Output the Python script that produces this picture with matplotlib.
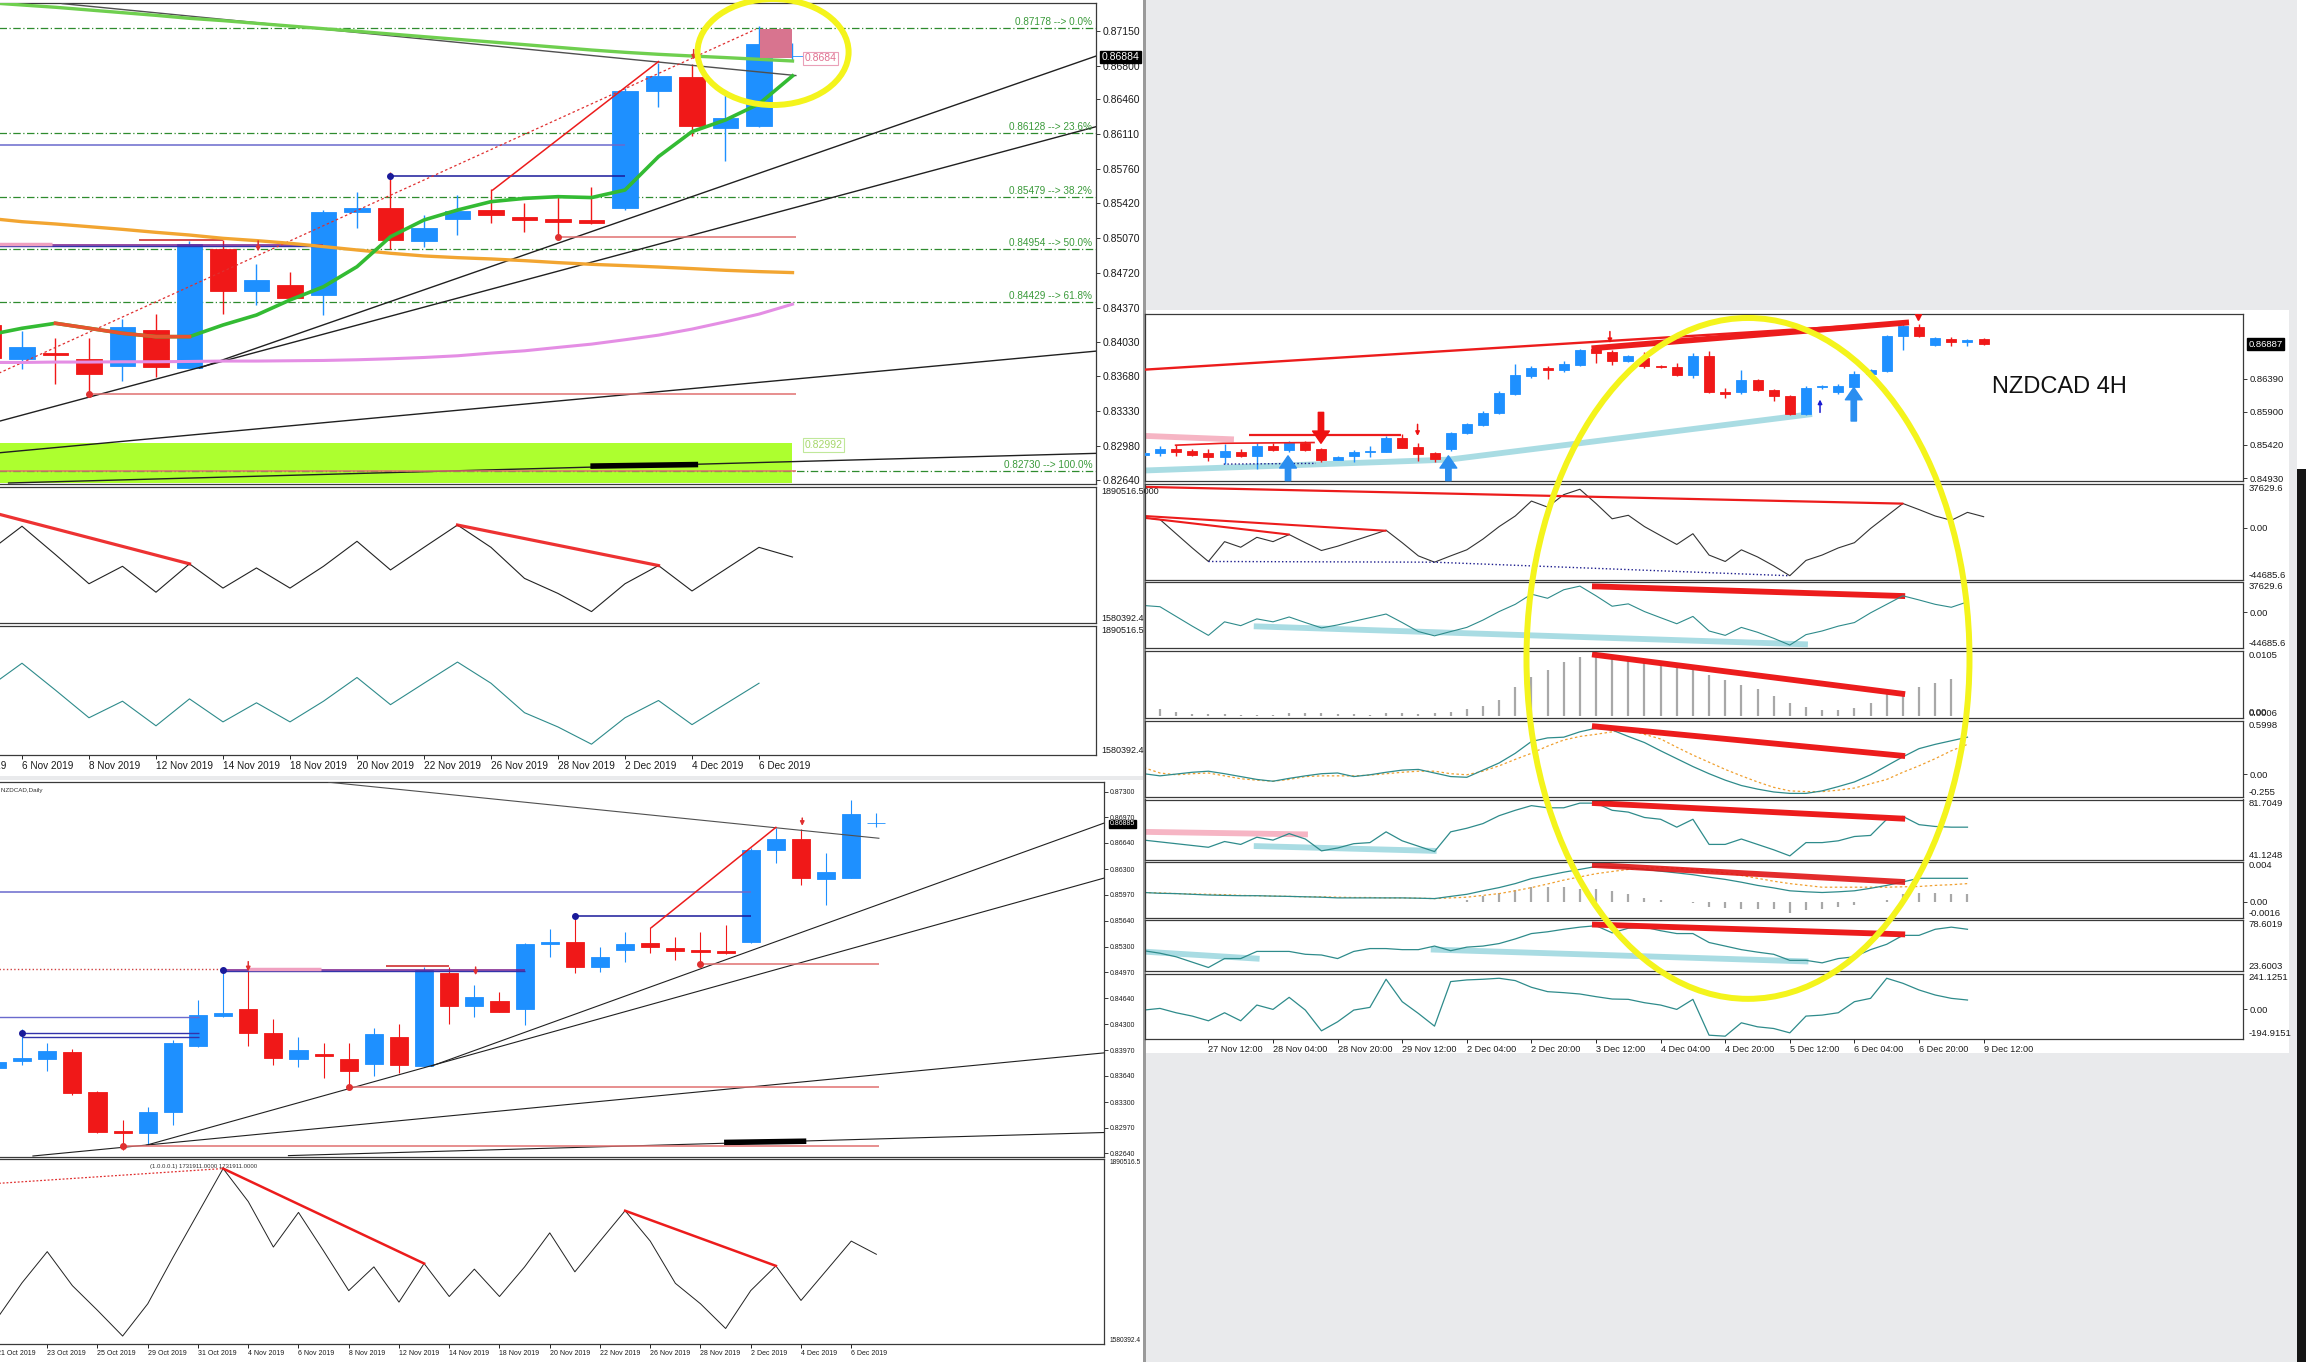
import matplotlib
matplotlib.use("Agg")
import matplotlib.pyplot as plt
from matplotlib.patches import Rectangle, Ellipse
import numpy as np

plt.rcParams['font.family'] = ['Liberation Sans', 'DejaVu Sans']

# ---------------- NZDCAD daily, 21 Oct 2019 .. 9 Dec 2019 ----------------
day_names = ['21 Oct', '22 Oct', '23 Oct', '24 Oct', '25 Oct', '28 Oct', '29 Oct', '30 Oct',
             '31 Oct', '1 Nov', '4 Nov', '5 Nov', '6 Nov', '7 Nov', '8 Nov', '11 Nov',
             '12 Nov', '13 Nov', '14 Nov', '15 Nov', '18 Nov', '19 Nov', '20 Nov', '21 Nov',
             '22 Nov', '25 Nov', '26 Nov', '27 Nov', '28 Nov', '29 Nov', '2 Dec', '3 Dec',
             '4 Dec', '5 Dec', '6 Dec', '9 Dec']
d_open = [0.83735, 0.83829, 0.83859, 0.83945, 0.83434, 0.82931, 0.82897, 0.83176, 0.84022,
          0.84413, 0.84495, 0.84194, 0.83851, 0.83915, 0.83855, 0.83786, 0.84143, 0.83765,
          0.84959, 0.84538, 0.84598, 0.84495, 0.85333, 0.85367, 0.85036, 0.85260, 0.85346,
          0.85281, 0.85256, 0.85251, 0.85367, 0.86548, 0.86686, 0.86170, 0.86192, 0.86892]
d_high = [0.83842, 0.84237, 0.84065, 0.83979, 0.83443, 0.83069, 0.83241, 0.84100, 0.84615,
          0.85023, 0.85045, 0.84366, 0.84134, 0.84065, 0.84065, 0.84259, 0.84306, 0.85036,
          0.85045, 0.84809, 0.84723, 0.85346, 0.85526, 0.85732, 0.85303, 0.85496, 0.85560,
          0.85423, 0.85496, 0.85582, 0.86570, 0.86827, 0.86815, 0.86514, 0.87193, 0.87029]
d_low = [0.83713, 0.83778, 0.83705, 0.83391, 0.82906, 0.82682, 0.82747, 0.83004, 0.84014,
         0.84400, 0.84022, 0.83778, 0.83756, 0.83606, 0.83477, 0.83636, 0.83670, 0.83765,
         0.84306, 0.84392, 0.84456, 0.84293, 0.85165, 0.84959, 0.84980, 0.85101, 0.85217,
         0.85131, 0.85088, 0.85208, 0.85346, 0.86385, 0.86097, 0.85840, 0.86183, 0.86849]
d_close = [0.83821, 0.83872, 0.83962, 0.83412, 0.82918, 0.82906, 0.83176, 0.84057, 0.84422,
           0.84443, 0.84186, 0.83863, 0.83971, 0.83894, 0.83700, 0.84177, 0.83773, 0.85007,
           0.84538, 0.84650, 0.84465, 0.85333, 0.85367, 0.85045, 0.85174, 0.85337, 0.85303,
           0.85251, 0.85234, 0.85217, 0.86548, 0.86694, 0.86192, 0.86269, 0.87012, 0.86900]
d_osc = [1623000, 1683200, 1735200, 1678200, 1636800, 1593700, 1647800, 1725200, 1799800,
         1874500, 1819200, 1742900, 1801000, 1736300, 1669900, 1709700, 1650600, 1715300,
         1660000, 1705900, 1660000, 1709700, 1766700, 1701400, 1752900, 1803800, 1752900,
         1682100, 1647800, 1606400, 1669900, 1711400, 1653400, 1703100, 1752900, 1730800]

# moving averages on the zoomed daily chart, 5 Nov .. 9 Dec
ma_top = [0.87431, 0.87408, 0.87385, 0.87358, 0.87331, 0.87304, 0.87274, 0.87251, 0.87224,
          0.87197, 0.87170, 0.87144, 0.87117, 0.87090, 0.87063, 0.87037, 0.87010, 0.86983,
          0.86956, 0.86933, 0.86913, 0.86896, 0.86880, 0.86863, 0.86846]
ma_fast = [0.84096, 0.84163, 0.84213, 0.84163, 0.84113, 0.84079, 0.84079, 0.84196, 0.84296,
           0.84447, 0.84580, 0.84781, 0.85082, 0.85250, 0.85350, 0.85434, 0.85467, 0.85484,
           0.85475, 0.85551, 0.85886, 0.86137, 0.86254, 0.86415, 0.86696]
ma_mid = [0.85267, 0.85233, 0.85210, 0.85183, 0.85156, 0.85126, 0.85099, 0.85066, 0.85043,
          0.85016, 0.84983, 0.84949, 0.84916, 0.84889, 0.84872, 0.84859, 0.84842, 0.84822,
          0.84805, 0.84792, 0.84778, 0.84762, 0.84745, 0.84732, 0.84722]
ma_slow = [0.83820, 0.83820, 0.83824, 0.83824, 0.83827, 0.83827, 0.83830, 0.83834, 0.83834,
           0.83837, 0.83840, 0.83847, 0.83857, 0.83870, 0.83887, 0.83914, 0.83937, 0.83971,
           0.84004, 0.84048, 0.84094, 0.84155, 0.84228, 0.84305, 0.84405]

fib_levels = [0.87178, 0.86128, 0.85479, 0.84954, 0.84429, 0.82730]
fib_names = ['0.0%', '23.6%', '38.2%', '50.0%', '61.8%', '100.0%']

# ---------------- NZDCAD 4H, 26 Nov 20:00 .. 9 Dec 04:00 ----------------
h4_labels = ['27 Nov 12:00', '28 Nov 04:00', '28 Nov 20:00', '29 Nov 12:00', '2 Dec 04:00',
             '2 Dec 20:00', '3 Dec 12:00', '4 Dec 04:00', '4 Dec 20:00', '5 Dec 12:00',
             '6 Dec 04:00', '6 Dec 20:00', '9 Dec 12:00']
h_open = [0.85266, 0.85295, 0.85353, 0.85329, 0.85295, 0.85232, 0.85314, 0.85246, 0.85402,
          0.85344, 0.85451, 0.85363, 0.85198, 0.85246, 0.85305, 0.85319, 0.85524, 0.85387,
          0.85295, 0.85353, 0.85587, 0.85709, 0.85879, 0.86166, 0.86434, 0.86546, 0.86521,
          0.86594, 0.86823, 0.86774, 0.86643, 0.86692, 0.86580, 0.86560, 0.86448, 0.86726,
          0.86190, 0.86190, 0.86375, 0.86229, 0.86132, 0.85864, 0.86268, 0.86190, 0.86268,
          0.86463, 0.86497, 0.87018, 0.87154, 0.86886, 0.86974, 0.86935, 0.86969]
h_high = [0.85305, 0.85402, 0.85412, 0.85363, 0.85363, 0.85426, 0.85353, 0.85451, 0.85441,
          0.85475, 0.85475, 0.85378, 0.85256, 0.85344, 0.85402, 0.85548, 0.85572, 0.85441,
          0.85314, 0.85606, 0.85743, 0.85908, 0.86205, 0.86609, 0.86570, 0.86570, 0.86643,
          0.86823, 0.86862, 0.86813, 0.86740, 0.86774, 0.86594, 0.86619, 0.86765, 0.86789,
          0.86254, 0.86521, 0.86385, 0.86239, 0.86142, 0.86278, 0.86302, 0.86317, 0.86497,
          0.86531, 0.87032, 0.87193, 0.87193, 0.87008, 0.86998, 0.86969, 0.86984]
h_low = [0.85256, 0.85256, 0.85256, 0.85256, 0.85183, 0.85134, 0.85232, 0.85061, 0.85329,
         0.85314, 0.85329, 0.85168, 0.85188, 0.85159, 0.85232, 0.85314, 0.85368, 0.85183,
         0.85159, 0.85329, 0.85572, 0.85694, 0.85864, 0.86156, 0.86400, 0.86390, 0.86487,
         0.86580, 0.86619, 0.86594, 0.86628, 0.86546, 0.86546, 0.86424, 0.86400, 0.86181,
         0.86108, 0.86171, 0.86205, 0.86059, 0.85850, 0.85850, 0.86239, 0.86171, 0.86254,
         0.86448, 0.86482, 0.86813, 0.86998, 0.86862, 0.86862, 0.86862, 0.86877]
h_close = [0.85295, 0.85353, 0.85319, 0.85271, 0.85232, 0.85329, 0.85246, 0.85402, 0.85344,
           0.85460, 0.85344, 0.85198, 0.85241, 0.85319, 0.85329, 0.85524, 0.85378, 0.85280,
           0.85207, 0.85597, 0.85728, 0.85884, 0.86181, 0.86448, 0.86546, 0.86521, 0.86604,
           0.86813, 0.86765, 0.86643, 0.86716, 0.86570, 0.86560, 0.86448, 0.86726, 0.86190,
           0.86171, 0.86375, 0.86220, 0.86132, 0.85864, 0.86254, 0.86288, 0.86288, 0.86463,
           0.86521, 0.87018, 0.87164, 0.87018, 0.86984, 0.86935, 0.86959, 0.86896]
h_osc = [8700, 7200, -5000, -17200, -28800, -11800, -16600, -8100, -11800, -5700, -12700,
         -19400, -15700, -11100, -6600, -2000, -12700, -24000, -29400, -24000, -18800, -9600,
         1100, 10200, 23000, 17800, 28500, 33100, 20900, 7800, 10800, 1100, -6600, -14200,
         -5000, -23300, -28800, -18800, -24900, -32500, -41000, -27900, -23300, -17200,
         -12700, -500, 10200, 20900, 15700, 10200, 6500, 13300, 9600]
h_osc_hist = [0.00113, 0.00058, 0.00034, 0.00029, 0.00022, 0.00018, 0.00008, 0.00011, 0.0004,
              0.0004, 0.0004, 0.00034, 0.00022, 0.00018, 0.0004, 0.0004, 0.00034, 0.00045,
              0.00058, 0.00102, 0.00153, 0.00257, 0.00457, 0.00628, 0.00742, 0.00857, 0.00941,
              0.00981, 0.0097, 0.00941, 0.00897, 0.00857, 0.00799, 0.00742, 0.00657, 0.00571,
              0.00502, 0.00428, 0.00313, 0.002, 0.00142, 0.00085, 0.00085, 0.00125, 0.002,
              0.00342, 0.00371, 0.00468, 0.00531, 0.00588]
h_macd = [0.0070, -0.0172, 0.0030, 0.0231, 0.0352, 0.0070, -0.0252, -0.0574, -0.0776, -0.0454,
          -0.0172, 0.0070, 0.0150, -0.0252, -0.0051, 0.0231, 0.0473, 0.0553, 0.0150, -0.0252,
          -0.0333, 0.0473, 0.1278, 0.2366, 0.3695, 0.4097, 0.4178, 0.4782, 0.5185, 0.4983,
          0.4259, 0.3574, 0.2648, 0.1761, 0.0875, 0.0070, -0.0655, -0.1259, -0.1662, -0.1984,
          -0.2145, -0.2145, -0.1863, -0.1380, -0.0856, -0.0051, 0.0956, 0.1963, 0.2889, 0.3372,
          0.3775, 0.4178]
h_macd_sig = [0.0755, 0.0150, -0.0051, 0.0070, 0.0150, -0.0172, -0.0494, -0.0655, -0.0776,
              -0.0574, -0.0252, -0.0172, -0.0172, -0.0172, -0.0091, 0.0070, 0.0231, 0.0352,
              0.0352, 0.0070, -0.0051, 0.0352, 0.0956, 0.1681, 0.2366, 0.3171, 0.3856, 0.4259,
              0.4500, 0.4782, 0.4983, 0.4500, 0.3977, 0.3050, 0.2164, 0.1359, 0.0553, -0.0172,
              -0.0856, -0.1461, -0.1863, -0.1944, -0.1944, -0.1783, -0.1541, -0.1058, -0.0574,
              0.0231, 0.0956, 0.1761, 0.2648, 0.3372]
h_rsi = [54.25, 53.03, 51.82, 50.61, 49.39, 53.28, 51.33, 56.19, 54.25, 58.62, 54.98, 46.96,
         48.91, 51.82, 52.55, 59.83, 53.76, 50.12, 46.48, 59.83, 62.26, 65.42, 70.76, 74.40,
         77.55, 76.10, 76.10, 79.25, 79.25, 74.40, 73.18, 69.54, 68.33, 62.99, 68.33, 51.33,
         51.33, 54.98, 51.33, 47.69, 43.57, 52.55, 52.55, 53.76, 56.68, 57.40, 68.33, 70.27,
         64.69, 63.47, 62.99, 62.99]
h_macd2 = [0.00090, 0.00082, 0.00079, 0.00072, 0.00065, 0.00061, 0.00058, 0.00058, 0.00054,
           0.00051, 0.00047, 0.00043, 0.00036, 0.00036, 0.00036, 0.00036, 0.00036, 0.00033,
           0.00029, 0.00051, 0.00072, 0.00107, 0.00139, 0.00179, 0.00229, 0.00261, 0.00293,
           0.00321, 0.00350, 0.00346, 0.00339, 0.00321, 0.00303, 0.00286, 0.00268, 0.00243,
           0.00221, 0.00193, 0.00161, 0.00136, 0.00107, 0.00097, 0.00090, 0.00097, 0.00107,
           0.00132, 0.00161, 0.00196, 0.00232, 0.00232, 0.00232, 0.00232]
h_macd2_sig = [0.00090, 0.00086, 0.00079, 0.00075, 0.00072, 0.00068, 0.00061, 0.00058, 0.00054,
               0.00051, 0.00047, 0.00047, 0.00043, 0.00040, 0.00040, 0.00036, 0.00036, 0.00033,
               0.00029, 0.00036, 0.00043, 0.00061, 0.00079, 0.00107, 0.00139, 0.00175, 0.00214,
               0.00246, 0.00278, 0.00300, 0.00321, 0.00332, 0.00339, 0.00332, 0.00321, 0.00303,
               0.00286, 0.00261, 0.00232, 0.00203, 0.00179, 0.00161, 0.00143, 0.00143, 0.00143,
               0.00143, 0.00143, 0.00147, 0.00150, 0.00161, 0.00168, 0.00179]
h_macd2_hist = [-0.00005, -0.00007, -0.00006, -0.00008, -0.00006, -0.00005, -0.00007, -0.00006,
                -0.00008, -0.00007, -0.00006, -0.00005, -0.00007, -0.00006, -0.00006, -0.00007,
                -0.00005, -0.00004, -0.00003, 0.00018, 0.00054, 0.00090, 0.00114, 0.00143,
                0.00143, 0.00150, 0.00125, 0.00125, 0.00107, 0.00072, 0.00036, 0.00011, -0.00007,
                -0.00017, -0.00053, -0.00064, -0.00071, -0.00071, -0.00078, -0.00114, -0.00089,
                -0.00071, -0.00053, -0.00036, 0.0, 0.00018, 0.00072, 0.00090, 0.00090, 0.00079,
                0.00072]
h_stoch = [45.48, 42.78, 38.93, 33.15, 27.38, 37.01, 37.01, 44.71, 44.71, 44.71, 41.63, 40.86,
           37.01, 44.71, 47.79, 47.79, 46.63, 46.63, 50.49, 45.48, 49.33, 50.49, 53.18, 58.19,
           63.97, 65.89, 68.59, 70.90, 72.44, 64.74, 69.74, 70.90, 67.05, 63.97, 63.97, 54.34,
           50.49, 46.63, 43.94, 41.63, 35.08, 35.08, 32.38, 37.01, 38.93, 46.63, 52.41, 62.04,
           62.04, 68.59, 70.90, 68.59]
h_cci = [-4.2, 7.0, -22.2, -44.6, -76.1, -22.2, -76.1, 29.5, 0.3, 81.2, -4.2, -143.5, -82.8,
         -4.2, 13.8, 202.5, 52.0, -26.7, -112.0, 186.8, 198.0, 202.5, 209.2, 193.5, 148.6, 119.4,
         112.6, 103.6, 85.7, 69.9, 67.7, 45.2, 29.5, 0.3, 67.7, -172.7, -179.4, -89.6, -116.5,
         -127.8, -157.0, -44.6, -37.9, -22.2, 52.0, 74.4, 209.2, 175.5, 130.6, 96.9, 74.4, 63.2]

# ---------------- figure ----------------
BULL, BEAR = '#1e90ff', '#f01818'
TEAL, ORANGE = '#2e8b8b', '#f0a030'
LBLUE, PINK, RED = '#a9dce3', '#f6b5c4', '#ec1c1c'
TXT = '#1a1a1a'

W, H = 2306, 1362
fig = plt.figure(figsize=(W / 100, H / 100), dpi=100, facecolor='#e9eaec')


def px(x0, y0, x1, y1):
    return [x0 / W, 1 - y1 / H, (x1 - x0) / W, (y1 - y0) / H]


def panel(x0, y0, x1, y1, color='white'):
    fig.add_artist(Rectangle((x0 / W, 1 - y1 / H), (x1 - x0) / W, (y1 - y0) / H,
                             transform=fig.transFigure, fc=color, ec='none', zorder=-5))


def pane(rect, xlim, ylim, ticks=None, fs=6.8):
    ax = fig.add_axes(px(*rect))
    ax.patch.set_visible(False)
    ax.set_xlim(xlim)
    ax.set_ylim(ylim)
    for s in ax.spines.values():
        s.set_color('#3a3a3a')
        s.set_linewidth(0.9)
    ax.set_xticks([])
    ax.yaxis.tick_right()
    ax.tick_params(axis='y', length=3, width=0.6, pad=1.5, labelsize=fs, colors=TXT)
    if ticks is None:
        ax.set_yticks([])
    else:
        ax.set_yticks(ticks)
        ax.set_yticklabels(['%.5f' % t for t in ticks])
    return ax


def scale(ax, top, bottom, zero=False, fs=6.8):
    for txt, y, va in ((top, 1, 'top'), (bottom, 0, 'bottom')):
        ax.annotate(txt, xy=(1, y), xycoords='axes fraction', xytext=(4, 0),
                    textcoords='offset points', ha='left', va=va, fontsize=fs, color=TXT,
                    annotation_clip=False)
    if zero:
        ax.set_yticks([0])
        ax.set_yticklabels(['0.00'])


def dates(ax, pos, labels, fs=7):
    ax.set_xticks(pos)
    ax.set_xticklabels(labels, ha='left', fontsize=fs, color=TXT)
    ax.tick_params(axis='x', length=3, width=0.6, pad=1.5)


def price_box(ax, y, text, fs=7):
    ax.annotate(text, xy=(1, y), xycoords=('axes fraction', 'data'), xytext=(4, 0),
                textcoords='offset points', ha='left', va='center', fontsize=fs, color='white',
                bbox=dict(boxstyle='square,pad=0.12', fc='black', ec='black'),
                annotation_clip=False, zorder=10)


def candles(ax, x, o, h, l, c, width, wick=1.0):
    o, h, l, c = map(np.asarray, (o, h, l, c))
    cols = np.where(c >= o, BULL, BEAR)
    ax.vlines(x, l, h, colors=cols, lw=wick, zorder=3)
    ax.bar(x, c - o, bottom=o, width=width, color=cols, ec=cols, lw=0.6, zorder=4)


def arrow(ax, x, tail, tip, color, big=False):
    if big:
        style = 'simple,head_width=1.1,head_length=0.8,tail_width=0.35'
        props = dict(arrowstyle=style, color=color, mutation_scale=11, shrinkA=0, shrinkB=0)
    else:
        props = dict(arrowstyle='-|>', color=color, lw=1.1, mutation_scale=6, shrinkA=0,
                     shrinkB=0)
    ax.annotate('', xy=(x, tip), xytext=(x, tail), arrowprops=props, zorder=7,
                annotation_clip=False)


# background panels
panel(0, 0, 1143, 776)
panel(0, 780, 1143, 1362)
panel(1146, 310, 2289, 1053)
panel(1143, 0, 1146, 1362, '#9a9a9a')
panel(2297, 0, 2306, 469)
panel(2297, 469, 2306, 1362, '#151515')

jd = np.arange(len(d_open))
jma = np.arange(11, 36)

# shared drawings of the daily charts
d_rising = [(5.94, 0.82744, 44.1, 0.86190), (17.3, 0.83765, 44.1, 0.86900),
            (1.43, 0.82605, 44.1, 0.83935), (11.6, 0.82610, 44.1, 0.82908)]


def daily_marks(ax, lw):
    for x0, y0, x1, y1 in d_rising:
        ax.plot([x0, x1], [y0, y1], color='#202020', lw=lw, zorder=5)
    ax.plot([29.05, 32.1], [0.82780, 0.82795], color='black', lw=4, zorder=5)
    ax.plot([13.2, 35.1], [0.87422, 0.86700], color='#505050', lw=lw, zorder=5)
    ax.plot([26.05, 31.0], [0.8555, 0.8684], color=RED, lw=1.1, zorder=6)
    ax.hlines(0.86005, -1, 30.0, color='#6a6acd', lw=1.1, zorder=5)
    ax.hlines(0.85694, 23.0, 30.0, color='#1a1a9a', lw=1.1, zorder=5)
    ax.hlines(0.85000, 9.0, 21.0, color='#7a1a8a', lw=1.1, zorder=5)
    ax.hlines(0.84985, 9.0, 21.0, color='#3333aa', lw=1.0, zorder=5)
    ax.hlines(0.85011, -1, 9.0, color='#d04040', lw=1.0, ls=':', zorder=5)
    ax.hlines(0.85011, 10.0, 12.9, color='#f0a0c0', lw=2.5, zorder=5)
    ax.hlines(0.85054, 15.5, 18.0, color='#d03030', lw=1.2, zorder=5)
    ax.hlines([0.85078, 0.83500, 0.82728], [28.0, 14.0, 5.0], 35.1, color='#e07070', lw=1.1,
              zorder=5)
    ax.plot([9.0, 23.0], [0.85000, 0.85694], 'o', color='#1a1a9a', ms=4, zorder=6)
    ax.plot([28.0, 14.0, 5.0], [0.85078, 0.83500, 0.82728], 'o', color='#e03030', ms=4, zorder=6)
    arrow(ax, 32.05, 0.86960, 0.86860, '#e03030')
    arrow(ax, 19.05, 0.85040, 0.84935, '#e03030')
    arrow(ax, 10.0, 0.85110, 0.84985, '#e03030')


# ---------------- top-left: zoomed daily ----------------
tl_x = (9.851, 44.06)
ax = pane((-50, 3, 1096, 484), tl_x, (0.82600, 0.87428),
          [0.87150, 0.86800, 0.86460, 0.86110, 0.85760, 0.85420, 0.85070, 0.84720, 0.84370,
           0.84030, 0.83680, 0.83330, 0.82980, 0.82640], fs=7.5)
ax.add_patch(Rectangle((9.85, 0.82607), 35.0 - 9.85, 0.83008 - 0.82607, fc='#adff2f', ec='none',
                       zorder=1))
for lev, name in zip(fib_levels, fib_names):
    ax.axhline(lev, color='#2e8b2e', lw=0.9, ls=(0, (6, 2, 1, 2)), zorder=2)
    ax.text(43.95, lev + 0.0001, '%.5f --> %s' % (lev, name), ha='right', va='bottom',
            fontsize=7.2, color='#3a9a3a', zorder=6)
candles(ax, jd, d_open, d_high, d_low, d_close, 0.75)
daily_marks(ax, 1.0)
ax.plot([11.3, 33.9], [0.83711, 0.87164], color='#e03030', lw=0.9, ls=(0, (2, 2)), zorder=5)
ax.plot(jma, ma_top, color='#6fcf4f', lw=2.4, zorder=5)
ax.plot(jma, ma_mid, color='#f2a531', lw=2.4, zorder=5)
ax.plot(jma, ma_slow, color='#e48ee4', lw=2.2, zorder=5)
ax.plot(jma, ma_fast, color='#33bb33', lw=2.6, zorder=6)
ax.plot(jma[2:7], ma_fast[2:7], color='#e8532e', lw=2.6, zorder=6)
ax.add_patch(Rectangle((34.02, 0.86873), 0.98, 0.00291, fc='#d8748f', ec='none', zorder=6))
ax.text(35.35, 0.86873, '0.8684', fontsize=7.5, color='#e07090', va='center', zorder=7,
        bbox=dict(boxstyle='square,pad=0.15', fc='white', ec='#eaa0b8', lw=0.8))
ax.text(35.35, 0.82992, '0.82992', fontsize=7.5, color='#a6d66a', va='center', zorder=7,
        bbox=dict(boxstyle='square,pad=0.15', fc='white', ec='#c0e89a', lw=0.8))
price_box(ax, 0.86884, '0.86884', fs=7.5)
fig.add_artist(Ellipse((34.42, 0.86936), 4.51, 0.01064, transform=ax.transData, fill=False,
                       ec='#f4f41c', lw=4.3, zorder=20))

ax = pane((-50, 487, 1096, 623), tl_x, (1580392.4, 1890516.5))
ax.plot(jd, d_osc, color='#222222', lw=0.8)
ax.plot([9, 17], [d_osc[9], d_osc[17]], color=RED, lw=2.3, alpha=0.9)
ax.plot([25, 31], [d_osc[25], d_osc[31]], color=RED, lw=2.3, alpha=0.9)
scale(ax, '1890516.5000', '1580392.4', fs=6.5)

ax = pane((-50, 626, 1096, 755), tl_x, (1580392.4, 1890516.5))
ax.plot(jd[:35], d_osc[:35], color=TEAL, lw=0.8)
scale(ax, '1890516.5', '1580392.4', fs=6.5)
dates(ax, jd[10:35:2], [day_names[j] + ' 2019' for j in jd[10:35:2]], fs=7.2)

# ---------------- bottom-left: daily ----------------
bl_x = (-0.199, 44.06)
ax = pane((-8, 782, 1104, 1157), bl_x, (0.82592, 0.87425),
          [0.87300, 0.86970, 0.86640, 0.86300, 0.85970, 0.85640, 0.85300, 0.84970, 0.84640,
           0.84300, 0.83970, 0.83640, 0.83300, 0.82970, 0.82640], fs=5)
candles(ax, jd, d_open, d_high, d_low, d_close, 0.72, wick=0.8)
daily_marks(ax, 0.8)
ax.hlines(0.84397, -1, 8.05, color='#6a6acd', lw=1.0, zorder=5)
ax.hlines([0.84194, 0.84143], 1.0, 8.05, color='#3333aa', lw=1.0, zorder=5)
ax.plot([1.0], [0.84194], 'o', color='#1a1a9a', ms=4, zorder=6)
ax.text(0.004, 0.985, '▾ NZDCAD,Daily', transform=ax.transAxes, fontsize=4.5, va='top',
        color='#333333')
price_box(ax, 0.86885, '0.86885', fs=5)

ax = pane((-8, 1159, 1104, 1344), bl_x, (1580392.4, 1890516.5))
ax.plot(jd, d_osc, color='#222222', lw=0.7)
ax.plot([9, 17], [d_osc[9], d_osc[17]], color=RED, lw=1.8)
ax.plot([25, 31], [d_osc[25], d_osc[31]], color=RED, lw=1.8)
ax.plot([-0.2, 9], [1849000, d_osc[9]], color='#e03030', lw=0.9, ls=(0, (1.5, 1.5)))
ax.text(6.1, 1877300, '(1.0.0.0.1) 1731911.0000 1731911.0000', fontsize=4.3, va='center',
        color='#333333')
scale(ax, '1890516.5', '1580392.4', fs=4.8)
dates(ax, jd[0:35:2], [day_names[j] + ' 2019' for j in jd[0:35:2]], fs=5)

# ---------------- right: 4H ----------------
kh = np.arange(-4, 49)
r_x = (-3.926, 64.06)
ax = pane((1145, 314, 2243, 481), r_x, (0.84886, 0.87339), [0.86390, 0.85900, 0.85420, 0.84930])
candles(ax, kh, h_open, h_high, h_low, h_close, 0.62)
ax.plot([-3.99, 43.2], [0.86521, 0.87212], color=RED, lw=1.7, zorder=5)
ax.plot([23.9, 43.2], [0.86838, 0.87212], color=RED, lw=4.2, zorder=5)
ax.plot([-3.99, 14.9, 37.2], [0.85040, 0.85200, 0.85864], color=LBLUE, lw=4.2, zorder=2)
ax.plot([-3.9, 1.4], [0.85548, 0.85499], color=PINK, lw=4.2, zorder=2)
ax.hlines(0.85562, 2.5, 11.93, color=RED, lw=1.6, zorder=5)
ax.plot([-2.03, 0.9, 6.54], [0.85412, 0.85440, 0.85451], color=RED, lw=1.2, zorder=5)
ax.plot([0.95, 6.66], [0.85134, 0.85145], color='#1a1a8c', lw=1.0, ls=':', zorder=5)
arrow(ax, 6.97, 0.85894, 0.85440, '#ee1111', big=True)
arrow(ax, 12.95, 0.85718, 0.85548, '#ee1111')
arrow(ax, 24.86, 0.87081, 0.86911, '#ee1111')
ax.plot([43.96], [0.87300], 'v', color='#ee1111', ms=5, zorder=7)
arrow(ax, 4.93, 0.84891, 0.85256, '#2a8ef0', big=True)
arrow(ax, 14.86, 0.84891, 0.85256, '#2a8ef0', big=True)
arrow(ax, 37.87, 0.85894, 0.86083, '#1a1ad0')
arrow(ax, 39.96, 0.85767, 0.86259, '#2a8ef0', big=True)
ax.text(48.5, 0.8626, 'NZDCAD 4H', fontsize=17, va='center', ha='left', color='#111111')
price_box(ax, 0.86897, '0.86887', fs=6.8)
r_price = ax

ax = pane((1145, 484, 2243, 580), r_x, (-44685.6, 37629.6))
ax.plot(kh, h_osc, color='#333333', lw=0.8)
ax.plot([-3.92, 42.96], [35153, 20808], color=RED, lw=1.6)
ax.plot([-4.0, 10.96], [10219, -2429], color=RED, lw=1.5)
ax.plot([-4.0, 4.97], [8682, -5663], color=RED, lw=1.5)
ax.plot([0, 13.95, 35.95], [-28804, -29401, -41014], color='#1a1a8c', lw=1.0, ls=':')
scale(ax, '37629.6', '-44685.6', zero=True)

ax = pane((1145, 582.5, 2243, 648), r_x, (-44685.6, 37629.6))
ax.plot([2.99, 36.94], [-17539, -40034], color=LBLUE, lw=4.2)
ax.plot([23.93, 42.96], [32729, 20664], color=RED, lw=4.2)
ax.plot(kh[:-1], h_osc[:-1], color=TEAL, lw=0.8)
scale(ax, '37629.6', '-44685.6', zero=True)

ax = pane((1145, 650.5, 2243, 718), r_x, (-0.00037, 0.0105))
ax.vlines(np.arange(-3, 47), 0, h_osc_hist, color='#a8a8a8', lw=1.6)
ax.plot([23.93, 42.96], [0.00981, 0.00353], color=RED, lw=4.2)
scale(ax, '0.0105', '0.0006')
ax.annotate('0.00', xy=(1, 0), xycoords='axes fraction', xytext=(4, 1),
            textcoords='offset points', ha='left', va='bottom', fontsize=6.8, color=TXT,
            annotation_clip=False)

k52 = np.arange(-4, 48)
ax = pane((1145, 721, 2243, 797), r_x, (-0.255, 0.5998))
ax.plot(k52, h_macd_sig, color=ORANGE, lw=0.9, ls=(0, (2, 2)))
ax.plot(k52, h_macd, color=TEAL, lw=0.9)
ax.plot([23.93, 42.96], [0.5389, 0.2085], color=RED, lw=4.2)
scale(ax, '0.5998', '-0.255', zero=True)

ax = pane((1145, 799.5, 2243, 859.5), r_x, (41.1248, 81.7049))
ax.plot([-4.0, 5.98], [59.82, 58.12], color=PINK, lw=4.2)
ax.plot([2.99, 13.95], [50.17, 46.97], color=LBLUE, lw=4.2)
ax.plot(k52, h_rsi, color=TEAL, lw=0.9)
ax.plot([23.93, 42.96], [79.26, 68.79], color=RED, lw=4.2)
scale(ax, '81.7049', '41.1248')

ax = pane((1145, 861.5, 2243, 917.5), r_x, (-0.0016, 0.004))
ax.vlines(np.arange(-3, 48), 0, h_macd2_hist, color='#a8a8a8', lw=1.6)
ax.plot(k52, h_macd2_sig, color=ORANGE, lw=0.9, ls=(0, (2, 2)))
ax.plot(k52, h_macd2, color=TEAL, lw=0.9)
ax.plot([23.93, 42.96], [0.00364, 0.00196], color='#e01515', lw=4.2, alpha=0.9)
scale(ax, '0.004', '-0.0016', zero=True)

ax = pane((1145, 920, 2243, 971), r_x, (23.6003, 78.6019))
ax.plot([-4.23, 2.99], [44.74, 36.97], color=LBLUE, lw=4.2)
ax.plot([13.95, 36.97], [46.68, 33.95], color=LBLUE, lw=4.2)
ax.plot(k52, h_stoch, color=TEAL, lw=0.9)
ax.plot([23.93, 42.96], [73.64, 63.18], color=RED, lw=4.2)
scale(ax, '78.6019', '23.6003')

ax = pane((1145, 973.5, 2243, 1038.5), r_x, (-194.9151, 241.1251))
ax.plot(k52, h_cci, color=TEAL, lw=0.9)
scale(ax, '241.1251', '-194.9151', zero=True)
dates(ax, np.arange(0, 49, 4), h4_labels, fs=6.6)

fig.add_artist(Ellipse((33.41, 0.82280), 27.43, 0.10001, transform=r_price.transData,
                       fill=False, ec='#f4f41c', lw=4.3, zorder=20))

fig.savefig('out.png', dpi=100, facecolor=fig.get_facecolor())
